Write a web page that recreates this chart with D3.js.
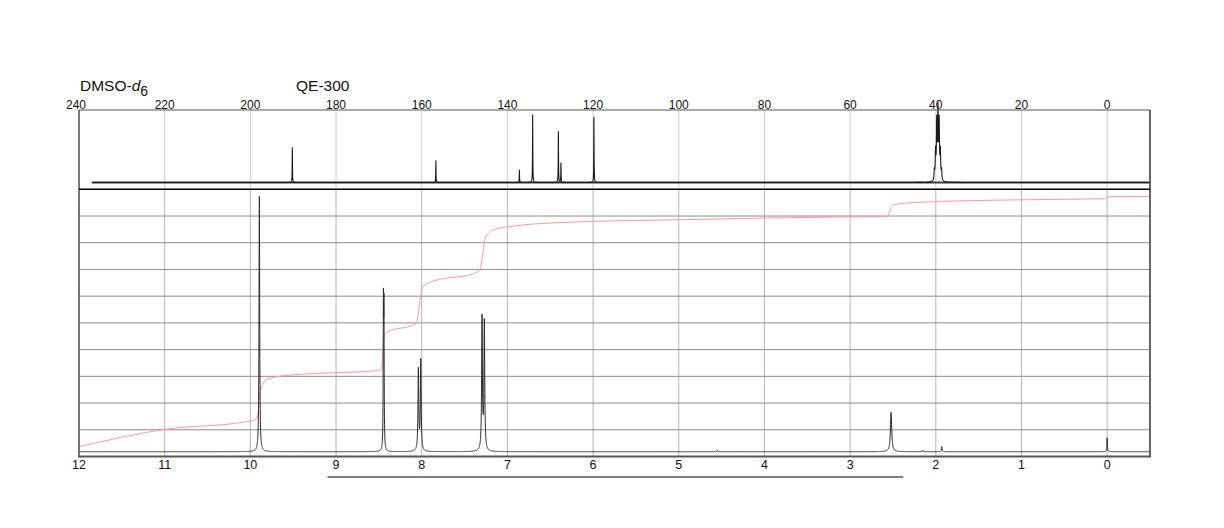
<!DOCTYPE html>
<html><head><meta charset="utf-8">
<script src="https://cdn.jsdelivr.net/npm/d3@7"></script>
<style>
html,body{margin:0;padding:0;background:#fff;}
text{font-family:"Liberation Sans",Arial,Helvetica,sans-serif;}
</style></head>
<body>
<svg id="chart" width="1224" height="528"></svg>
<script>
// ---- data ----
// 13C axis ticks (ppm)
const cTicks = [240, 220, 200, 180, 160, 140, 120, 100, 80, 60, 40, 20, 0];
// 1H axis ticks (ppm)
const hTicks = [12, 11, 10, 9, 8, 7, 6, 5, 4, 3, 2, 1, 0];
// 13C peaks: shift (ppm), relative height (% of panel)
const cShifts  = [190.2, 156.7, 137.2, 134.1, 128.1, 127.5, 119.8];
const cHeights = [48, 30, 17, 93, 70, 27, 90];
// DMSO-d6 septet lines
const dmsoShifts  = [40.34, 40.06, 39.78, 39.50, 39.22, 38.94, 38.66];
const dmsoHeights = [13, 38, 78, 94, 78, 38, 13];
// 13C baseline extent (ppm)
const cBaseRange = [237, -10];
// 1H peaks: shift (ppm), height (% of panel), half width (ppm)
const hShifts  = [9.895, 8.447, 8.441, 8.039, 8.011, 7.296, 7.269, 4.55, 2.522, 2.15, 1.93, 0.0];
const hHeights = [97.3, 52.4, 50.0, 31.0, 34.4, 50.5, 48.7, 0.6, 15.0, 0.6, 2.0, 5.3];
const hWidths  = [0.0045, 0.003, 0.003, 0.0055, 0.0055, 0.0055, 0.0055, 0.004, 0.009, 0.004, 0.004, 0.003];
// integral trace (ppm, % of panel)
const intPpm   = [12.0, 11.0, 10.0, 9.93, 9.91, 9.895, 9.88, 9.86, 9.8, 9.5, 9.0, 8.5, 8.47, 8.455, 8.444, 8.43, 8.4, 8.1, 8.06, 8.045, 8.025, 8.005, 7.99, 7.9, 7.75, 7.44, 7.33, 7.31, 7.285, 7.265, 7.25, 7.16, 6.97, 6.39, 5.0, 3.0, 2.58, 2.55, 2.525, 2.50, 2.23, 1.0, 0.03, 0.01, -0.01, -0.5];
const intValue = [1.9, 8.5, 11.7, 12.3, 14.5, 19.5, 23.8, 25.6, 27.7, 29.3, 30.1, 30.9, 31.4, 37.0, 42.8, 44.6, 45.8, 48.3, 49.0, 51.5, 56.5, 61.0, 62.6, 64.6, 65.9, 67.4, 69.0, 70.5, 76.0, 80.5, 82.0, 84.6, 85.8, 87.3, 88.4, 89.5, 89.6, 90.5, 92.5, 94.1, 95.0, 96.0, 96.4, 96.6, 97.2, 97.3];
// horizontal marker range below the 1H axis (ppm)
const markerRange = [9.1, 2.38];

// ---- layout ----
const svg = d3.select("#chart");
const L = 79, R = 1150;
const cTop = 110, cBase = 182.5, sep = 189.3, hBottom = 456.5, hBase = 451.7;

const xC = d3.scaleLinear().domain([240, -10]).range([L, R]);
const xH = d3.scaleLinear().domain([12, -0.5]).range([L, R]);
const yC = d3.scaleLinear().domain([0, 100]).range([cBase, cTop]);
const yH = d3.scaleLinear().domain([0, 100]).range([hBase, sep]);

function lor(x, x0, h, w) { const d = x - x0; return h * w * w / (d * d + w * w); }

// ---- grids ----
svg.append("g").selectAll("line").data(cTicks).join("line")
  .attr("x1", d => xC(d)).attr("x2", d => xC(d))
  .attr("y1", cTop).attr("y2", sep)
  .attr("stroke", "#cfcfcf").attr("stroke-width", 1);
svg.append("g").selectAll("line").data(hTicks).join("line")
  .attr("x1", d => xH(d)).attr("x2", d => xH(d))
  .attr("y1", sep).attr("y2", hBottom)
  .attr("stroke", "#b4b4b4").attr("stroke-width", 1);
const hGrid = d3.range(1, 10).map(i => i * 10);
const yGrid = d3.scaleLinear().domain([0, 100]).range([hBottom, sep]);
svg.append("g").selectAll("line").data(hGrid).join("line")
  .attr("x1", L).attr("x2", R)
  .attr("y1", d => yGrid(d)).attr("y2", d => yGrid(d))
  .attr("stroke", "#8c8c8c").attr("stroke-width", 1);

// ---- 13C spectrum ----
// fuzzy baseline band
svg.append("line")
  .attr("x1", xC(cBaseRange[0])).attr("x2", xC(cBaseRange[1]))
  .attr("y1", yC(0)).attr("y2", yC(0))
  .attr("stroke", "#3a3a3a").attr("stroke-width", 2.2);
const cPts = [];
for (let i = 0; ; i++) {
  const p = cBaseRange[0] - i * 0.01;
  if (p < cBaseRange[1]) break;
  let v = 0;
  for (let k = 0; k < cShifts.length; k++) v += lor(p, cShifts[k], cHeights[k], 0.04);
  for (let k = 0; k < dmsoShifts.length; k++) v += lor(p, dmsoShifts[k], dmsoHeights[k], 0.09);
  cPts.push([p, v]);
}
svg.append("path").datum(cPts)
  .attr("d", d3.line().x(d => xC(d[0])).y(d => yC(d[1])))
  .attr("fill", "none").attr("stroke", "#1a1a1a").attr("stroke-width", 1.1)
  .attr("stroke-linejoin", "round");

// ---- 1H integral ----
const intData = intPpm.map((p, i) => [p, intValue[i]]);
svg.append("path").datum(intData)
  .attr("d", d3.line().x(d => xH(d[0])).y(d => yH(d[1])).curve(d3.curveMonotoneX))
  .attr("fill", "none").attr("stroke", "#ff9a9a").attr("stroke-width", 1);

// ---- 1H spectrum ----
const hPts = [];
for (let i = 0; ; i++) {
  const p = 12 - i * 0.001;
  if (p < -0.5) break;
  let v = 0;
  for (let k = 0; k < hShifts.length; k++) v += lor(p, hShifts[k], hHeights[k], hWidths[k]);
  hPts.push([p, v]);
}
svg.append("path").datum(hPts)
  .attr("d", d3.line().x(d => xH(d[0])).y(d => yH(d[1])))
  .attr("fill", "none").attr("stroke", "#2a2a2a").attr("stroke-width", 1);

// ---- frames ----
svg.append("line").attr("x1", L).attr("x2", R).attr("y1", cTop).attr("y2", cTop)
  .attr("stroke", "#555").attr("stroke-width", 1.2);
svg.append("line").attr("x1", L).attr("x2", L).attr("y1", cTop).attr("y2", hBottom)
  .attr("stroke", "#555").attr("stroke-width", 1.5);
svg.append("line").attr("x1", R).attr("x2", R).attr("y1", cTop).attr("y2", hBottom)
  .attr("stroke", "#555").attr("stroke-width", 1.8);
svg.append("line").attr("x1", L).attr("x2", R).attr("y1", sep).attr("y2", sep)
  .attr("stroke", "#000").attr("stroke-width", 1.6);
svg.append("line").attr("x1", L - 1).attr("x2", R + 1).attr("y1", hBottom).attr("y2", hBottom)
  .attr("stroke", "#555").attr("stroke-width", 2.2);

// ---- tick labels ----
svg.append("g").selectAll("text").data(cTicks).join("text")
  .attr("x", d => d === 240 ? xC(d) - 3 : xC(d)).attr("y", 108.5)
  .attr("text-anchor", "middle").attr("font-size", 12).attr("fill", "#111")
  .text(d => d);
svg.append("g").selectAll("text").data(hTicks).join("text")
  .attr("x", d => xH(d)).attr("y", 469)
  .attr("text-anchor", "middle").attr("font-size", 12.5).attr("fill", "#111")
  .text(d => d);

// ---- marker line ----
svg.append("line")
  .attr("x1", xH(markerRange[0])).attr("x2", xH(markerRange[1]))
  .attr("y1", 477).attr("y2", 477).attr("stroke", "#000").attr("stroke-width", 1.2);

// ---- titles ----
const t1 = svg.append("text").attr("x", 80).attr("y", 90.5).attr("font-size", 15.5).attr("fill", "#111");
t1.append("tspan").text("DMSO-");
t1.append("tspan").attr("font-style", "italic").text("d");
t1.append("tspan").attr("dy", 5.5).attr("font-size", 14).text("6");
svg.append("text").attr("x", 296).attr("y", 90.5).attr("font-size", 15.5).attr("fill", "#111").text("QE-300");
</script>
</body></html>
